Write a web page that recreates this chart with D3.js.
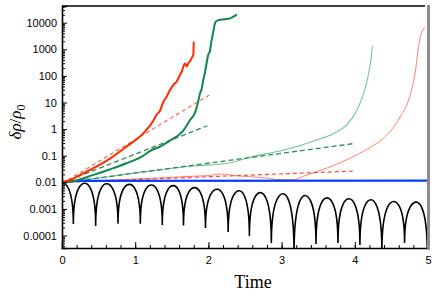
<!DOCTYPE html>
<html>
<head>
<meta charset="utf-8">
<script src="https://cdn.jsdelivr.net/npm/d3@7"></script>
<style>
  body { margin: 0; background: #fff; }
  .tick text { font-family: "Liberation Sans", Arial, sans-serif; font-size: 11px; fill: #000; }
</style>
</head>
<body>
<div id="chart"></div>
<script>
// ---- data ----
var xTicks = [0, 1, 2, 3, 4, 5];
var yTicks = [1e-4, 1e-3, 1e-2, 1e-1, 1, 10, 100, 1000, 10000];
var yTickLabels = ["0.0001", "0.001", "0.01", "0.1", "1", "10", "100", "1000", "10000"];

// oscillating black curve: arch tops and cusps
var blackPeakT = [0, 0.31, 0.61, 0.92, 1.22, 1.52, 1.81, 2.12, 2.42, 2.71, 3.02, 3.32, 3.62, 3.92, 4.22, 4.53, 4.84];
var blackPeakV = [0.0098, 0.0092, 0.0088, 0.0084, 0.0079, 0.0075, 0.0063, 0.0055, 0.0048, 0.0041, 0.0037, 0.0032, 0.0026, 0.0024, 0.0022, 0.0019, 0.0018];
var blackDipT = [0.155, 0.46, 0.765, 1.07, 1.37, 1.66, 1.96, 2.27, 2.56, 2.86, 3.17, 3.47, 3.77, 4.07, 4.37, 4.68, 4.99];
var blackDipV = [2.7e-4, 2.3e-4, 2.8e-4, 2.8e-4, 2.5e-4, 2.4e-4, 1.9e-4, 1.35e-4, 9.6e-5, 5.2e-5, 2e-5, 4.8e-5, 5.2e-5, 4.4e-5, 2.5e-5, 5.2e-5, 2e-5];

var blueLine = [[0, 0.0105], [0.2, 0.0114], [5, 0.0116]];

var redThick = [[0, 0.0098], [0.11, 0.0122], [0.25, 0.019], [0.43, 0.034], [0.66, 0.08], [0.88, 0.22], [1.11, 0.69],
  [1.25, 2.1], [1.29, 3.4], [1.34, 5.0], [1.384, 10.5], [1.43, 17], [1.475, 29.5], [1.52, 45], [1.567, 62],
  [1.61, 105], [1.635, 144], [1.68, 295], [1.703, 225], [1.726, 300], [1.758, 400], [1.78, 520], [1.794, 610], [1.80, 1950]];
var greenThick = [[0, 0.0098], [0.11, 0.0105], [0.43, 0.019], [0.66, 0.031], [0.88, 0.052], [1.11, 0.10], [1.2, 0.15],
  [1.34, 0.22], [1.48, 0.38], [1.6, 0.62], [1.66, 0.9], [1.75, 2.2], [1.817, 4.2], [1.862, 11.5], [1.885, 22],
  [1.908, 32], [1.93, 70], [1.955, 144], [1.975, 300], [2.0, 650], [2.02, 820], [2.04, 1900], [2.067, 4600],
  [2.09, 9500], [2.11, 11500], [2.14, 12600], [2.22, 13500], [2.3, 14600], [2.34, 16800], [2.39, 20700]];
var greenThin = [[0, 0.0098], [0.5, 0.0145], [1.2, 0.027], [1.8, 0.041], [2.27, 0.052], [2.57, 0.088], [3.02, 0.16],
  [3.48, 0.39], [3.71, 0.69], [3.89, 1.43], [4.03, 5.2], [4.12, 22], [4.18, 94], [4.22, 400], [4.24, 1320]];
var redThin = [[0, 0.0098], [0.6, 0.012], [1.2, 0.0141], [1.8, 0.017], [2.0, 0.018], [2.18, 0.0205], [2.35, 0.018],
  [2.57, 0.0162], [2.8, 0.0145], [2.93, 0.0128], [3.16, 0.0126], [3.3, 0.017], [3.48, 0.025], [3.7, 0.042],
  [3.93, 0.079], [4.2, 0.2], [4.39, 0.45], [4.62, 2.9], [4.75, 16.6], [4.83, 166], [4.87, 1260], [4.91, 4000], [4.96, 7100]];
var redDash1 = [[0, 0.009], [2.01, 19]];
var greenDash1 = [[0, 0.0095], [1.985, 1.34]];
var redDash2 = [[0, 0.0099], [4.0, 0.0266]];
var greenDash2 = [[0, 0.0095], [4.0, 0.29]];

// ---- layout ----
var width = 436, height = 299;
var mLeft = 62, mRight = 428, mTop = 6, mBottom = 248;

var svg = d3.select("#chart").append("svg")
  .attr("width", width)
  .attr("height", height);

var x = d3.scaleLinear().domain([0, 5]).range([mLeft, mRight]);
var y = d3.scaleLog().domain([3.4e-5, 4.25e4]).range([mBottom, mTop]);

svg.append("clipPath").attr("id", "plotclip")
  .append("rect")
  .attr("x", mLeft).attr("y", mTop)
  .attr("width", mRight - mLeft).attr("height", mBottom - mTop);

var plot = svg.append("g").attr("clip-path", "url(#plotclip)");

var line = d3.line()
  .x(d => x(d[0]))
  .y(d => y(d[1]))
  .curve(d3.curveMonotoneX);

// black arches: vertical tangent at each cusp, flat at each top
var p = d3.path();
p.moveTo(x(blackPeakT[0]), y(blackPeakV[0]));
for (var i = 0; i < blackDipT.length; i++) {
  var xp = x(blackPeakT[i]), yp = y(blackPeakV[i]);
  var xd = x(blackDipT[i]), yd = y(blackDipV[i]);
  p.bezierCurveTo(xp + 0.1 * (xd - xp), yp, xd, yp, xd, yd);
  if (i + 1 < blackPeakT.length) {
    var xn = x(blackPeakT[i + 1]), yn = y(blackPeakV[i + 1]);
    p.bezierCurveTo(xd, yn, xd + 0.9 * (xn - xd), yn, xn, yn);
  }
}
plot.append("path")
  .attr("d", p.toString())
  .attr("fill", "none")
  .attr("stroke", "#000")
  .attr("stroke-width", 1.6);

function addLine(data, color, w, dash) {
  plot.append("path")
    .datum(data)
    .attr("d", line)
    .attr("fill", "none")
    .attr("stroke", color)
    .attr("stroke-width", w)
    .attr("stroke-dasharray", dash || null)
    .attr("stroke-linejoin", "round");
}

addLine(redThin, "#ff8070", 1);
addLine(greenThin, "#74c29a", 1.1);
addLine(redDash2, "#ff4a2a", 1.2, "4,3");
addLine(greenDash2, "#2b8a58", 1.3, "5,3");
addLine(blueLine, "#0a3cff", 2.2);
addLine(redDash1, "#ff5a3a", 1.1, "4,3");
addLine(greenDash1, "#2b8a58", 1.3, "5,3");
addLine(greenThick, "#10884a", 2);
addLine(redThick, "#ff2a00", 2);

// ---- axes ----
var minorY = [];
yTicks.forEach(function (d) {
  for (var k = 2; k <= 9; k++) {
    var v = d * k;
    if (v < 4.25e4) minorY.push(v);
  }
});
minorY.push(4e-5, 5e-5, 6e-5, 7e-5, 8e-5, 9e-5);

svg.append("g")
  .attr("transform", `translate(${mLeft},0)`)
  .call(d3.axisLeft(y).tickValues(minorY).tickSize(-3).tickFormat(""))
  .call(g => g.select(".domain").remove());

var yAxis = svg.append("g")
  .attr("transform", `translate(${mLeft},0)`)
  .call(d3.axisLeft(y).tickValues(yTicks).tickSize(-5).tickPadding(5)
    .tickFormat((d, i) => yTickLabels[i]));
yAxis.select(".domain").attr("stroke-width", 1.6);

var minorX = d3.range(0, 26).map(d => d / 5);
svg.append("g")
  .attr("transform", `translate(0,${mBottom})`)
  .call(d3.axisBottom(x).tickValues(minorX).tickSize(-3).tickFormat(""))
  .call(g => g.select(".domain").remove());

var xAxis = svg.append("g")
  .attr("transform", `translate(0,${mBottom})`)
  .call(d3.axisBottom(x).tickValues(xTicks).tickSize(-6).tickPadding(8).tickFormat(d3.format("d")));
xAxis.select(".domain").attr("stroke-width", 1.6);

svg.selectAll(".tick line").attr("stroke", "#000");

// frame: top black, right grey
svg.append("line")
  .attr("x1", mLeft).attr("x2", mRight - 3)
  .attr("y1", mTop).attr("y2", mTop)
  .attr("stroke", "#000").attr("stroke-width", 1.6);
svg.append("rect")
  .attr("x", mRight - 1).attr("y", mTop - 1)
  .attr("width", 3).attr("height", mBottom - mTop + 3)
  .attr("fill", "#8c8c8c");

// ---- axis titles ----
svg.append("text")
  .attr("x", 253).attr("y", 288)
  .attr("text-anchor", "middle")
  .style("font-family", "'Liberation Serif', 'DejaVu Serif', serif")
  .style("font-size", "18px")
  .text("Time");

var ylab = svg.append("text")
  .attr("transform", "translate(21,122) rotate(-90)")
  .attr("text-anchor", "middle")
  .style("font-family", "'Liberation Serif', 'DejaVu Serif', serif")
  .style("font-size", "17px");
ylab.append("tspan").style("font-style", "italic").text("δρ");
ylab.append("tspan").text("/");
ylab.append("tspan").style("font-style", "italic").text("ρ");
ylab.append("tspan").attr("dy", 4).style("font-size", "12px").text("0");
</script>
</body>
</html>
